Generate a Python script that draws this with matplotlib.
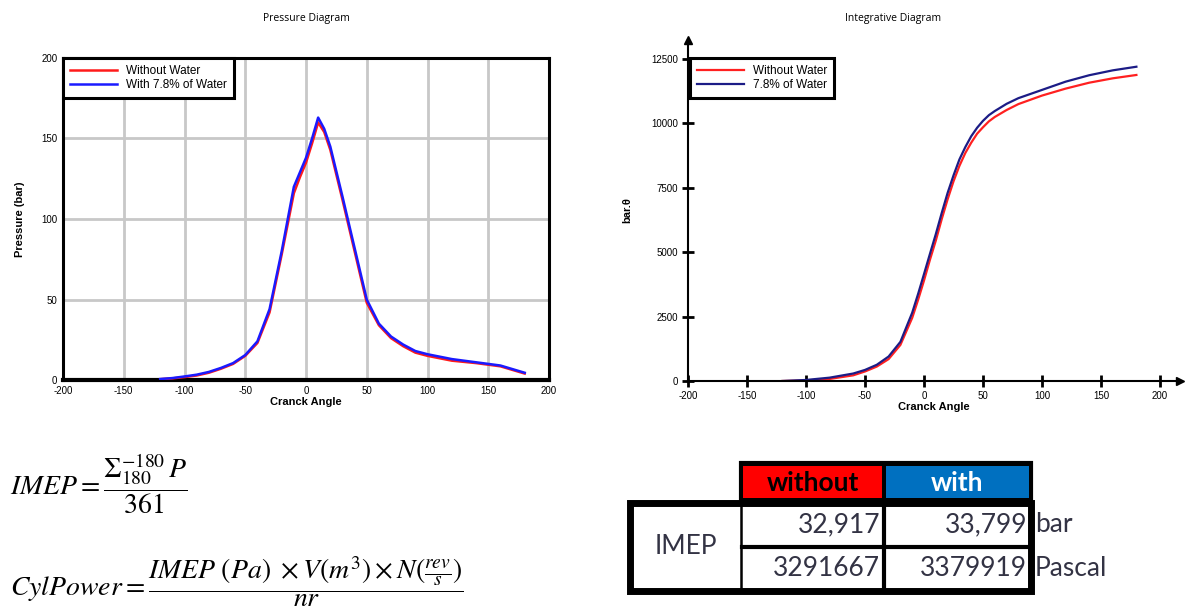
"""
Pressure / integrative diagrams with IMEP formulas and summary table.
"""
import matplotlib
matplotlib.use("Agg")
import matplotlib.pyplot as plt
from matplotlib.patches import Rectangle

# pressure diagram (bar vs crank angle)
p_angle = [-120, -110, -100, -90, -80, -70, -60, -50, -40, -30, -20, -10, -5, 0, 5,
           10, 15, 20, 30, 40, 50, 60, 70, 80, 90, 100, 120, 140, 160, 180]
p_without = [0.5, 1, 1.8, 2.8, 4.5, 7, 10, 15, 23, 42, 78, 116, 126, 135, 147,
             160, 154, 143, 112, 80, 48, 34, 26, 21, 17, 15, 12, 10.5, 8.5, 4]
p_with = [0.6, 1.2, 2.2, 3.3, 5, 7.5, 10.5, 15.5, 24, 44, 80, 120, 129, 138, 150,
          163, 156, 145, 114, 82, 50, 35, 27, 22, 18, 16, 13, 11, 9, 4.5]

# integrative diagram (bar.theta vs crank angle)
i_angle = [-120, -100, -80, -60, -50, -40, -30, -20, -10, -5, 0, 5, 10, 15, 20, 25,
           30, 35, 40, 45, 50, 55, 60, 70, 80, 100, 120, 140, 160, 180]
i_without = [0, 20, 80, 220, 370, 560, 850, 1400, 2450, 3150, 3900, 4700, 5450,
             6280, 7050, 7750, 8350, 8850, 9250, 9600, 9850, 10080, 10250, 10520,
             10750, 11080, 11350, 11580, 11750, 11880]
i_with = [0, 40, 130, 290, 430, 630, 950, 1520, 2650, 3380, 4150, 4930, 5700,
          6520, 7300, 7980, 8600, 9080, 9500, 9830, 10100, 10320, 10480, 10760,
          10980, 11300, 11620, 11870, 12060, 12200]

x_ticks = [-200, -150, -100, -50, 0, 50, 100, 150, 200]
p_ticks = [0, 50, 100, 150, 200]
i_ticks = [0, 2500, 5000, 7500, 10000, 12500]

# IMEP table
table_cols = ["without", "with"]
imep_bar = ["32,917", "33,799"]
imep_pa = ["3291667", "3379919"]
units = ["bar", "Pascal"]

W, H = 1188, 609
plt.rcParams["font.family"] = ["Liberation Sans", "DejaVu Sans"]
plt.rcParams["mathtext.fontset"] = "stix"
plt.rcParams["axes.unicode_minus"] = False
fig = plt.figure(figsize=(W / 100, H / 100), dpi=100)


def px_axes(x0, y0, x1, y1):
    # pixel box (top-left origin) -> figure axes
    return fig.add_axes([x0 / W, 1 - y1 / H, (x1 - x0) / W, (y1 - y0) / H])


leg_kw = dict(loc="upper left", borderaxespad=0, fontsize=8.5, fancybox=False,
              edgecolor="black", framealpha=1, handlelength=4.0,
              borderpad=0.6, labelspacing=0.15, handletextpad=0.7)

# 1. Pressure diagram
ax1 = px_axes(63, 58, 549, 380)
ax1.plot(p_angle, p_without, color="#ff1a1a", lw=1.8, label="Without Water", zorder=3)
ax1.plot(p_angle, p_with, color="#1a1aff", lw=1.8, label="With 7.8% of Water", zorder=4)
ax1.set_xlim(-200, 200)
ax1.set_ylim(0, 200)
ax1.set_xticks(x_ticks)
ax1.set_yticks(p_ticks)
ax1.grid(True, color="#c8c8c8", lw=2)
ax1.tick_params(length=0, labelsize=7, pad=4)
for s in ax1.spines.values():
    s.set_linewidth(2.2)
ax1.spines["bottom"].set_linewidth(3)
ax1.set_xlabel("Cranck Angle", fontsize=8, fontweight="bold", labelpad=1)
ax1.set_ylabel("Pressure (bar)", fontsize=8, fontweight="bold", labelpad=12)
leg1 = ax1.legend(**leg_kw)
leg1.get_frame().set_linewidth(2.2)

# 2. Integrative diagram
ax2 = px_axes(688, 40, 1180, 381)
ax2.plot(i_angle, i_without, color="#ff2020", lw=1.6, label="Without Water")
ax2.plot(i_angle, i_with, color="#1c1c86", lw=1.6, label="7.8% of Water")
ax2.set_xlim(-200, 200 + 400 * 20 / 472)
ax2.set_ylim(0, 12500 * 341 / 322)
ax2.set_xticks(x_ticks)
ax2.set_yticks(i_ticks)
ax2.spines["top"].set_visible(False)
ax2.spines["right"].set_visible(False)
ax2.spines["left"].set_linewidth(1.5)
ax2.spines["bottom"].set_linewidth(1.5)
ax2.tick_params(direction="inout", length=8, width=2, labelsize=7, pad=3)
ax2.plot(1, 0, ">k", ms=6, transform=ax2.transAxes, clip_on=False)
ax2.plot(0, 1, "^k", ms=6, transform=ax2.transAxes, clip_on=False)
ax2.set_xlabel("Cranck Angle", fontsize=8, fontweight="bold", labelpad=1)
ax2.set_ylabel("bar.θ", fontsize=8, fontweight="bold", labelpad=14)
leg2 = ax2.legend(bbox_to_anchor=(0.004, 1 - 18 / 341), **leg_kw)
leg2.get_frame().set_linewidth(2.2)

# overlay in pixel coords for titles, formulas and table
ov = px_axes(0, 0, W, H)
ov.set_xlim(0, W)
ov.set_ylim(H, 0)
ov.axis("off")

ov.text(306, 18, "Pressure Diagram", fontsize=7.5, fontfamily="Open Sans",
        ha="center", va="center")
ov.text(893, 18, "Integrative Diagram", fontsize=7.5, fontfamily="Open Sans",
        ha="center", va="center")

ov.text(10, 484, r"$IMEP = \dfrac{\Sigma_{180}^{-180}\,P}{361}$", fontsize=20,
        ha="left", va="center")
ov.text(10, 582,
        r"$CylPower = \dfrac{IMEP\ (Pa)\ \times V(m^3) \times N(\frac{rev}{s})}{nr}$",
        fontsize=20, ha="left", va="center")

# table geometry
col_x = [630, 741, 884, 1031]
hdr_y = (463, 501)
row_y = [503, 547, 591]
head_colors = ["#ff0000", "#0070c0"]
head_text = ["black", "white"]
tfont = dict(fontfamily="Lato", fontsize=19, va="center")

ov.add_patch(Rectangle((col_x[1], hdr_y[0]), col_x[3] - col_x[1], hdr_y[1] - hdr_y[0],
                       facecolor="black", edgecolor="black", lw=3))
for i, name in enumerate(table_cols):
    x0, x1 = col_x[i + 1], col_x[i + 2]
    ov.add_patch(Rectangle((x0 + 2, hdr_y[0] + 3), x1 - x0 - 4, hdr_y[1] - hdr_y[0] - 6,
                           facecolor=head_colors[i], edgecolor="none"))
    ov.text((x0 + x1) / 2, (hdr_y[0] + hdr_y[1]) / 2 + 1, name, ha="center",
            color=head_text[i], fontweight="bold", **tfont)

ov.add_patch(Rectangle((col_x[0], row_y[0]), col_x[3] - col_x[0], row_y[2] - row_y[0],
                       facecolor="white", edgecolor="black", lw=5))
ov.plot([col_x[1], col_x[1]], [row_y[0], row_y[2]], color="black", lw=1.8)
ov.plot([col_x[2], col_x[2]], [row_y[0], row_y[2]], color="black", lw=3)
ov.plot([col_x[1] + 1, col_x[3]], [row_y[1], row_y[1]], color="black", lw=3)
ov.text((col_x[0] + col_x[1]) / 2, (row_y[0] + row_y[2]) / 2, "IMEP",
        ha="center", color="#333344", **tfont)
for r, vals in enumerate([imep_bar, imep_pa]):
    yc = (row_y[r] + row_y[r + 1]) / 2
    for i, v in enumerate(vals):
        ov.text(col_x[i + 2] - 4, yc, v, ha="right", color="#333344", **tfont)
    ov.text(col_x[3] + 4, yc, units[r], ha="left", color="#333344", **tfont)

fig.savefig("out.png", dpi=100)
